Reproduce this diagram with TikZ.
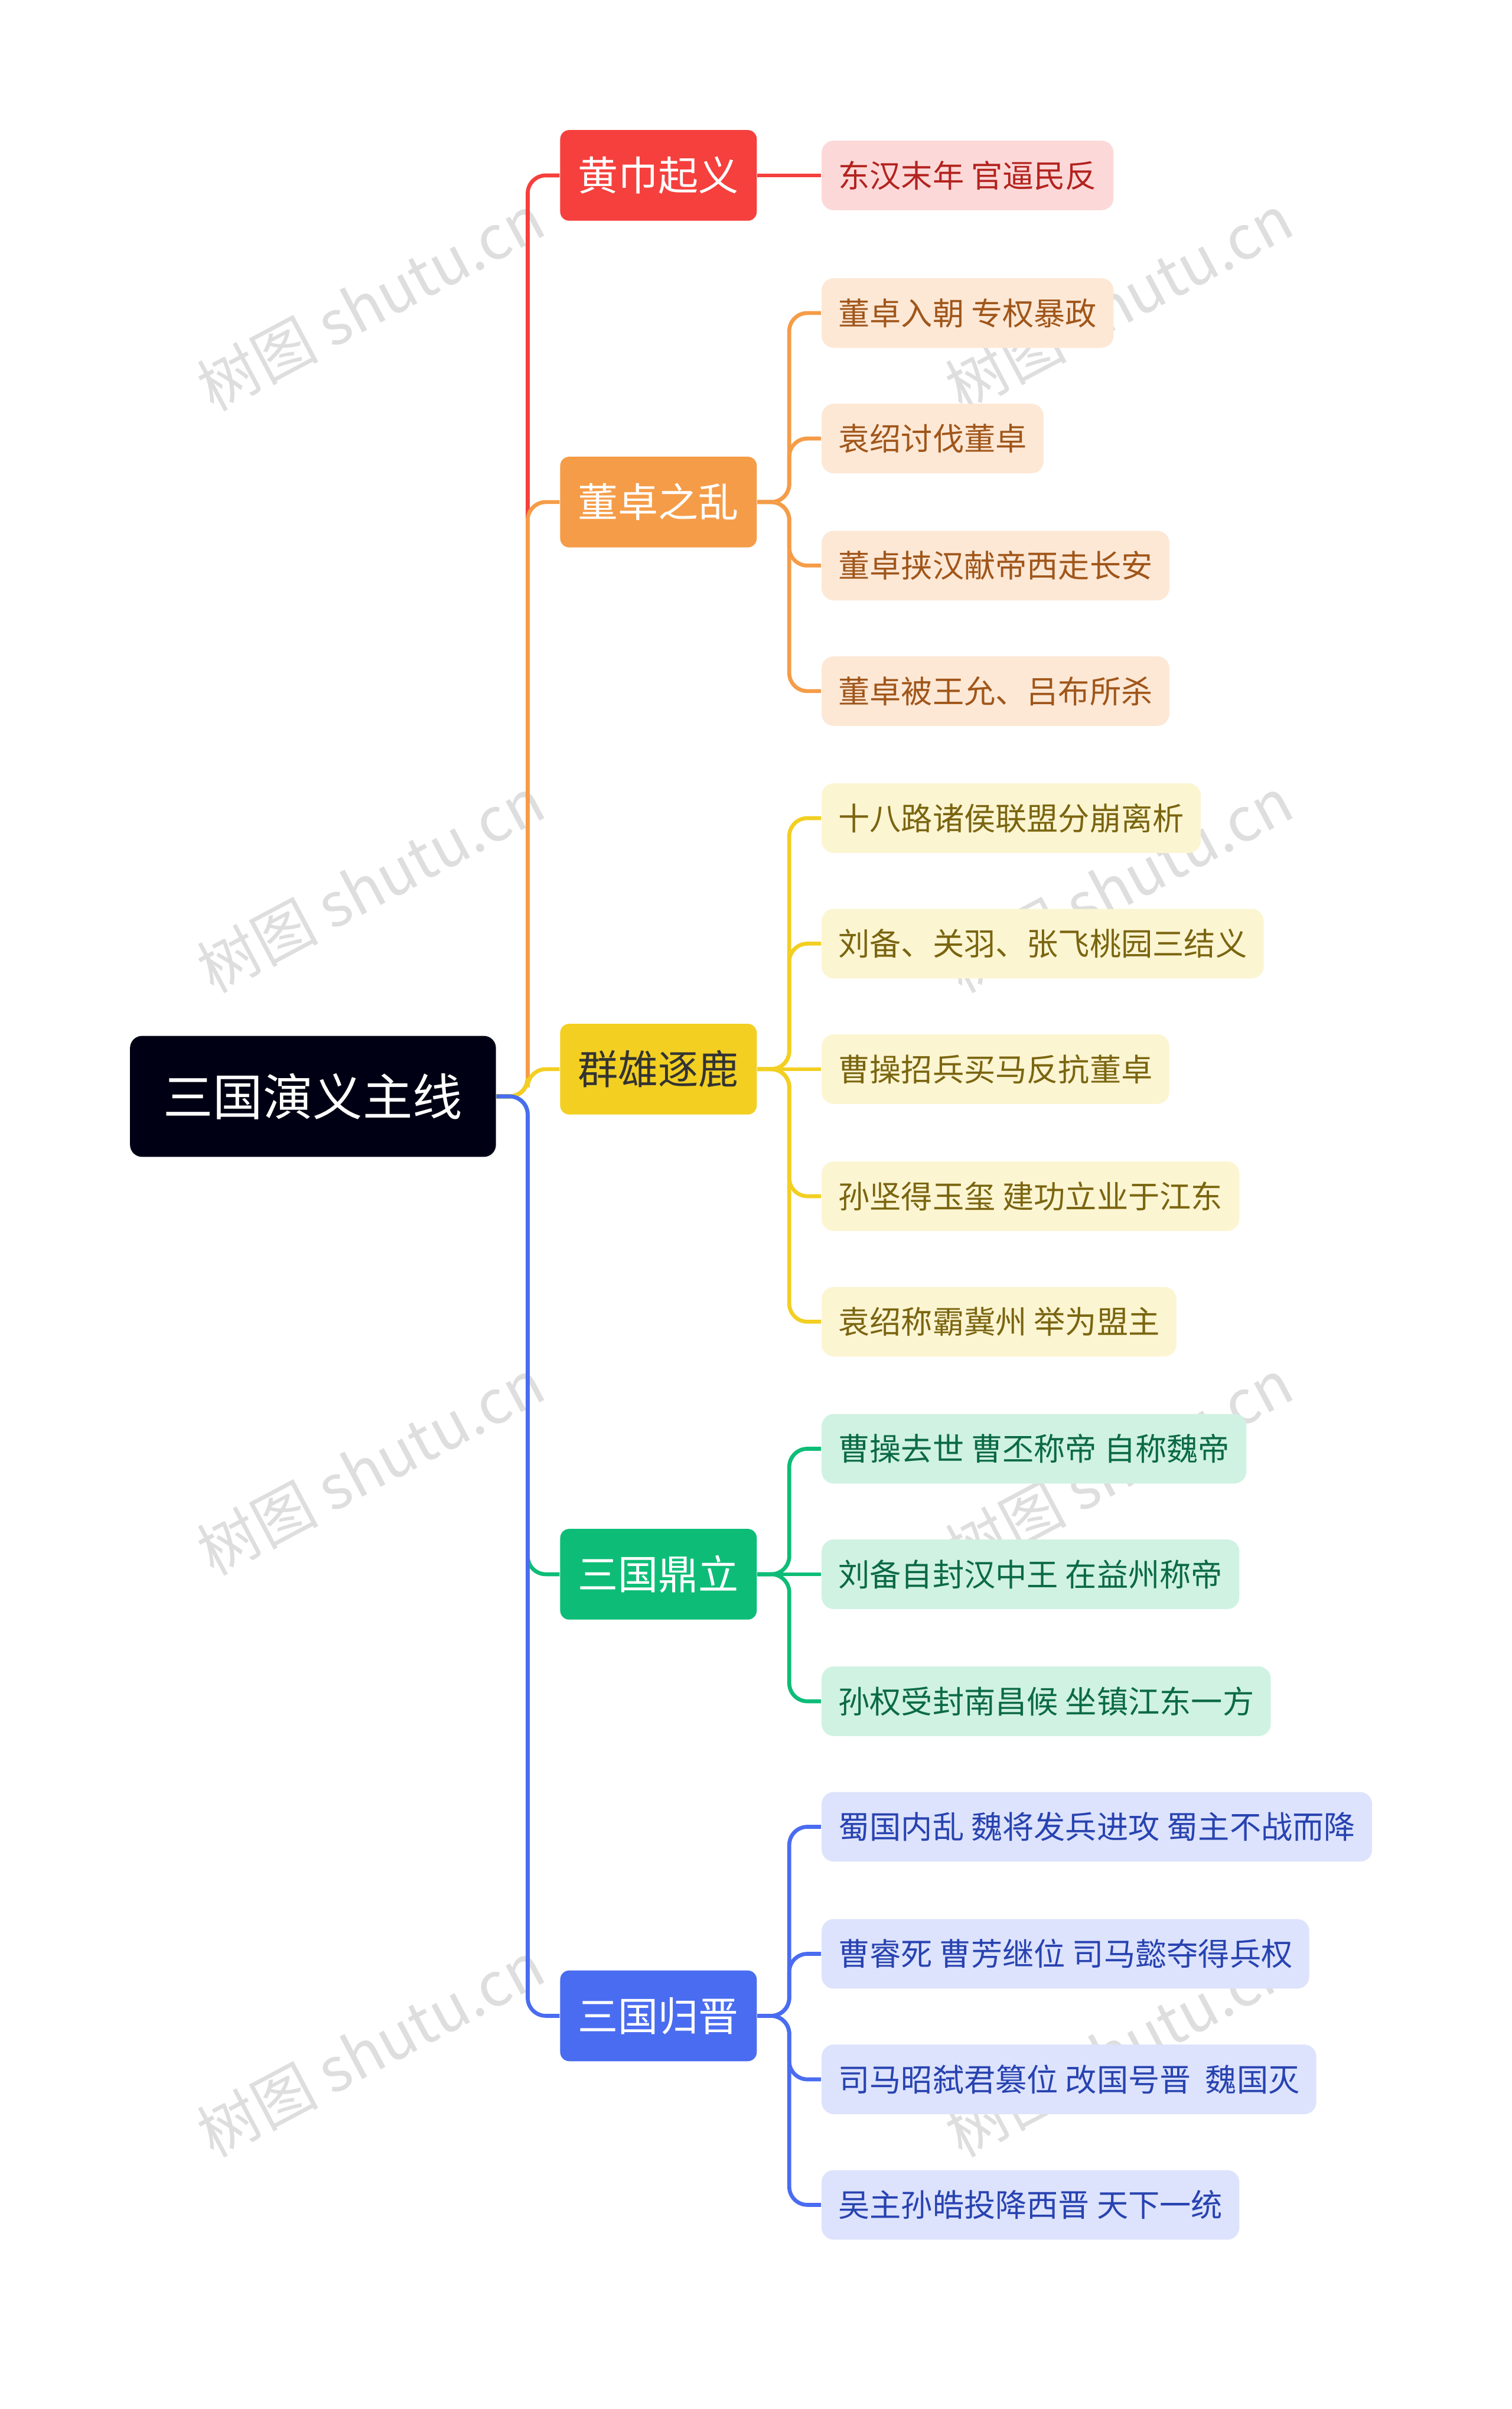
\documentclass[tikz,border=0pt]{standalone}
\usepackage{fontspec}
\setmainfont{Noto Sans CJK SC}
\begin{document}
\begin{tikzpicture}[x=0.5pt,y=-0.5pt,
 l1/.style={rounded corners=3pt,minimum width=65pt,minimum height=30pt,font=\fontsize{13.3}{13.3}\selectfont,text=white,inner sep=0pt},
 lf/.style={rounded corners=4pt,minimum height=23pt,inner xsep=5.5pt,font=\fontsize{10.4}{10.4}\selectfont,anchor=west},
 cn/.style={line width=1.3pt,rounded corners=6pt},
 wm/.style={text=black!13,font=\fontsize{20}{20}\selectfont,rotate=28}]
\definecolor{cR}{HTML}{F5403D}\definecolor{cO}{HTML}{F59C48}\definecolor{cY}{HTML}{F2CF21}
\definecolor{cG}{HTML}{0DBD77}\definecolor{cB}{HTML}{4A6CF0}
\definecolor{fR}{HTML}{FCD9D8}\definecolor{fO}{HTML}{FDE8D6}\definecolor{fY}{HTML}{FCF5D2}
\definecolor{fG}{HTML}{D0F2E3}\definecolor{fB}{HTML}{DDE3FC}
\definecolor{tR}{HTML}{B3231F}\definecolor{tO}{HTML}{A0561A}\definecolor{tY}{HTML}{7A6510}
\definecolor{tG}{HTML}{0B6A45}\definecolor{tB}{HTML}{2843B0}
\useasboundingbox[fill=white] (0,0) rectangle (1000,1593);
\foreach \x in {245,740}{\foreach \y in {200,585,970,1355}{\node[wm] at (\x,\y) {树图 shutu.cn};}}
\node[fill=black!92!blue,rounded corners=4pt,minimum width=121pt,minimum height=40pt,text=white,font=\fontsize{16.5}{16.5}\selectfont] (root) at (207,725) {三国演义主线};
\node[l1,fill=cR] (a) at (435.5,116) {黄巾起义};
\node[l1,fill=cO] (b) at (435.5,332) {董卓之乱};
\node[l1,fill=cY,text=black!80] (c) at (435.5,707) {群雄逐鹿};
\node[l1,fill=cG] (d) at (435.5,1041) {三国鼎立};
\node[l1,fill=cB] (e) at (435.5,1333) {三国归晋};
\foreach \n/\c/\y in {a/cR/116,b/cO/332,c/cY/707,d/cG/1041,e/cB/1333}{
 \draw[cn,\c] (root.east) -- (349,725) -- (349,\y) -- (\n.west);}
\newcommand\leaf[5]{\node[lf,fill=#3,text=#4] (#1) at (543,#5) {#2};}
\leaf{a1}{东汉末年 官逼民反}{fR}{tR}{116}
\leaf{b1}{董卓入朝 专权暴政}{fO}{tO}{207}
\leaf{b2}{袁绍讨伐董卓}{fO}{tO}{290}
\leaf{b3}{董卓挟汉献帝西走长安}{fO}{tO}{374}
\leaf{b4}{董卓被王允、吕布所杀}{fO}{tO}{457}
\leaf{c1}{十八路诸侯联盟分崩离析}{fY}{tY}{541}
\leaf{c2}{刘备、关羽、张飞桃园三结义}{fY}{tY}{624}
\leaf{c3}{曹操招兵买马反抗董卓}{fY}{tY}{707}
\leaf{c4}{孙坚得玉玺 建功立业于江东}{fY}{tY}{791}
\leaf{c5}{袁绍称霸冀州 举为盟主}{fY}{tY}{874}
\leaf{d1}{曹操去世 曹丕称帝 自称魏帝}{fG}{tG}{958}
\leaf{d2}{刘备自封汉中王 在益州称帝}{fG}{tG}{1041}
\leaf{d3}{孙权受封南昌候 坐镇江东一方}{fG}{tG}{1125}
\leaf{e1}{蜀国内乱 魏将发兵进攻 蜀主不战而降}{fB}{tB}{1208}
\leaf{e2}{曹睿死 曹芳继位 司马懿夺得兵权}{fB}{tB}{1292}
\leaf{e3}{司马昭弑君篡位 改国号晋\ \ 魏国灭}{fB}{tB}{1375}
\leaf{e4}{吴主孙皓投降西晋 天下一统}{fB}{tB}{1458}
\foreach \p/\k/\c/\py/\y in {b/b1/cO/332/207,b/b2/cO/332/290,b/b3/cO/332/374,b/b4/cO/332/457,
 c/c1/cY/707/541,c/c2/cY/707/624,c/c4/cY/707/791,c/c5/cY/707/874,
 d/d1/cG/1041/958,d/d3/cG/1041/1125,
 e/e1/cB/1333/1208,e/e2/cB/1333/1292,e/e3/cB/1333/1375,e/e4/cB/1333/1458}{
 \draw[cn,\c] (\p.east) -- (522,\py) -- (522,\y) -- (\k.west);}
\foreach \p/\k/\c in {a/a1/cR,c/c3/cY,d/d2/cG}{\draw[cn,\c] (\p.east) -- (\k.west);}
\end{tikzpicture}
\end{document}
